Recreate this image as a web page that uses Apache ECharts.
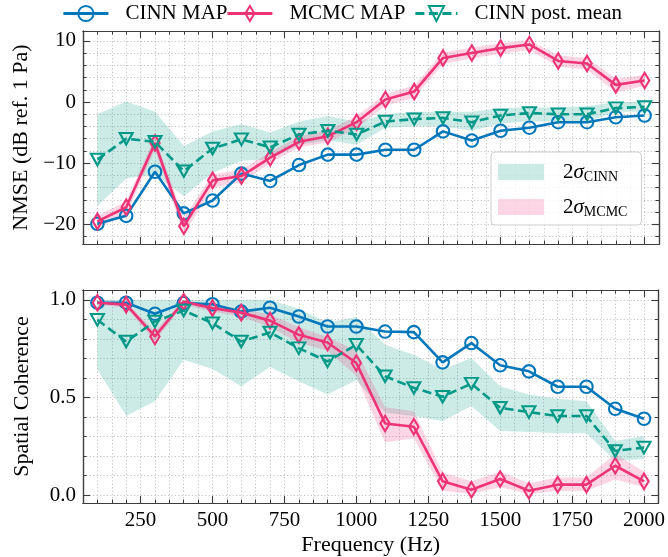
<!DOCTYPE html>
<html>
<head>
<meta charset="utf-8">
<script src="https://cdn.jsdelivr.net/npm/echarts@6/dist/echarts.min.js"></script>
<style>
  html, body { margin: 0; padding: 0; background: #fff; }
  #chart { width: 668px; height: 557px; }
</style>
</head>
<body>
<div id="chart"></div>
<script>
// Frequencies (Hz)
const freqs = [100, 200, 300, 400, 500, 600, 700, 800, 900, 1000, 1100, 1200, 1300, 1400, 1500, 1600, 1700, 1800, 1900, 2000];

// NMSE (dB ref. 1 Pa)
const nmseCinnMap  = [-19.9, -18.6, -11.4, -18.2, -16.1, -11.7, -12.9, -10.3, -8.6, -8.6, -7.8, -7.8, -4.8, -6.3, -4.7, -4.2, -3.3, -3.3, -2.5, -2.2];
const nmseMcmcMap  = [-19.5, -17.2, -6.7, -20.3, -12.8, -12.1, -9.1, -6.5, -5.6, -3.3, 0.4, 1.7, 7.2, 8.0, 8.8, 9.4, 6.7, 6.3, 2.8, 3.5];
const nmseCinnMean = [-9.4, -6.0, -6.5, -11.3, -7.6, -6.1, -7.4, -5.3, -4.7, -5.3, -3.2, -2.8, -2.6, -3.3, -2.2, -1.8, -2.0, -2.0, -1.0, -0.8];
const nmseCinnLo   = [-17.0, -12.5, -11.8, -15.4, -11.6, -9.6, -9.4, -7.0, -6.3, -7.0, -4.2, -4.0, -4.0, -4.7, -3.5, -3.2, -3.2, -3.2, -1.6, -1.6];
const nmseCinnHi   = [-2.0, 0.1, -1.6, -7.2, -4.8, -3.6, -5.0, -3.2, -2.3, -3.2, -2.0, -1.6, -1.6, -1.6, -1.0, -0.9, -0.9, -0.7, 0.0, 0.0];
const nmseMcmcLo   = [-20.6, -18.3, -7.8, -21.6, -14.0, -13.1, -10.0, -7.4, -6.6, -4.3, -0.6, 0.7, 6.2, 7.1, 7.9, 8.5, 5.8, 5.3, 1.6, 2.6];
const nmseMcmcHi   = [-18.6, -16.2, -5.7, -19.0, -11.8, -11.1, -8.2, -5.6, -4.6, -2.3, 1.3, 2.7, 8.1, 8.9, 9.6, 10.1, 7.6, 7.2, 3.8, 4.4];

// Spatial coherence
const cohCinnMap  = [0.986, 0.986, 0.929, 0.984, 0.978, 0.940, 0.960, 0.915, 0.864, 0.864, 0.838, 0.835, 0.680, 0.779, 0.665, 0.634, 0.555, 0.555, 0.442, 0.391];
const cohMcmcMap  = [0.986, 0.976, 0.813, 0.991, 0.958, 0.935, 0.894, 0.821, 0.782, 0.677, 0.367, 0.350, 0.070, 0.027, 0.082, 0.022, 0.053, 0.053, 0.150, 0.070];
const cohCinnMean = [0.898, 0.787, 0.889, 0.946, 0.881, 0.787, 0.833, 0.753, 0.685, 0.770, 0.609, 0.549, 0.504, 0.571, 0.447, 0.425, 0.405, 0.405, 0.226, 0.243];
const cohCinnLo   = [0.643, 0.405, 0.481, 0.694, 0.646, 0.558, 0.656, 0.583, 0.515, 0.588, 0.422, 0.405, 0.379, 0.456, 0.328, 0.323, 0.316, 0.316, 0.175, 0.184];
const cohCinnHi   = [1.000, 1.000, 1.000, 1.000, 1.000, 1.000, 1.000, 0.955, 0.885, 0.912, 0.770, 0.719, 0.643, 0.702, 0.558, 0.515, 0.493, 0.481, 0.277, 0.303];
const cohMcmcLo   = [0.975, 0.960, 0.790, 0.975, 0.940, 0.915, 0.860, 0.780, 0.740, 0.610, 0.270, 0.290, 0.022, 0.005, 0.040, 0.005, 0.020, 0.020, 0.080, 0.040];
const cohMcmcHi   = [0.995, 0.990, 0.840, 1.000, 0.975, 0.955, 0.925, 0.860, 0.810, 0.740, 0.450, 0.430, 0.116, 0.070, 0.120, 0.060, 0.090, 0.090, 0.210, 0.120];

// Tick positions
const freqMajorTicks = [250, 500, 750, 1000, 1250, 1500, 1750, 2000];
const freqMinorTicks = [];
for (let f = 100; f <= 2000; f += 50) freqMinorTicks.push(f);
const nmseMajorTicks = [-20, -10, 0, 10];
const nmseMinorTicks = [-22, -20, -18, -16, -14, -12, -10, -8, -6, -4, -2, 0, 2, 4, 6, 8, 10];
const cohMajorTicks = [0, 0.5, 1.0];
const cohMinorTicks = [0, 0.1, 0.2, 0.3, 0.4, 0.5, 0.6, 0.7, 0.8, 0.9, 1.0];

const FONT = 'Liberation Serif';
const frameColor = '#3c3c3c';
const gridColor = '#b4b4b4';
const BLUE = '#0077BB', PINK = '#EE3377', TEAL = '#009988';

// thin diamond inside a square box, so it keeps its shape in the legend too
const THIN_DIAMOND = 'path://M0,8 M16,8 M8,0 L12.8,8 L8,16 L3.2,8 Z';

const panels = [
  { top: 31, height: 213, ymin: -23.2, ymax: 11.6, major: nmseMajorTicks, minor: nmseMinorTicks,
    fmt: v => (v < 0 ? '\u2212' + Math.abs(v) : String(v)), yname: 'NMSE (dB ref. 1 Pa)', xlabels: false },
  { top: 290, height: 214, ymin: -0.041, ymax: 1.051, major: cohMajorTicks, minor: cohMinorTicks,
    fmt: v => v.toFixed(1), yname: 'Spatial Coherence', xlabels: true }
];

const grids = [], xAxes = [], yAxes = [];
panels.forEach((p, gi) => {
  grids.push({ left: 83, right: 9, top: p.top, height: p.height });
  const axLine = { show: true, onZero: false, lineStyle: { color: frameColor, width: 1.2 } };
  const xb = { type: 'value', gridIndex: gi, min: 50, max: 2050, axisLine: axLine,
               axisLabel: { show: false }, splitLine: { show: false } };
  // minor ticks + dotted grid (bottom)
  xAxes.push(Object.assign({}, xb, { position: 'bottom',
    axisTick: { show: true, inside: true, length: 3.5, customValues: freqMinorTicks, lineStyle: { color: frameColor, width: 1 } },
    splitLine: { show: true, lineStyle: { color: gridColor, width: 0.8, type: [1.2, 2.2] } } }));
  // major ticks + labels (bottom)
  xAxes.push(Object.assign({}, xb, { position: 'bottom',
    axisTick: { show: true, inside: true, length: 7, customValues: freqMajorTicks, lineStyle: { color: frameColor, width: 1.1 } },
    axisLabel: { show: p.xlabels, customValues: freqMajorTicks, margin: 7, color: '#000', fontFamily: FONT, fontSize: 21,
                 formatter: v => String(v) },
    name: p.xlabels ? 'Frequency (Hz)' : '', nameLocation: 'middle', nameGap: 31,
    nameTextStyle: { color: '#000', fontFamily: FONT, fontSize: 22 } }));
  // top frame ticks
  xAxes.push(Object.assign({}, xb, { position: 'top',
    axisTick: { show: true, inside: true, length: 3.5, customValues: freqMinorTicks, lineStyle: { color: frameColor, width: 1 } } }));
  xAxes.push(Object.assign({}, xb, { position: 'top',
    axisTick: { show: true, inside: true, length: 7, customValues: freqMajorTicks, lineStyle: { color: frameColor, width: 1.1 } } }));

  const yb = { type: 'value', gridIndex: gi, min: p.ymin, max: p.ymax, axisLine: axLine,
               axisLabel: { show: false }, splitLine: { show: false } };
  yAxes.push(Object.assign({}, yb, { position: 'left',
    axisTick: { show: true, inside: true, length: 3.5, customValues: p.minor, lineStyle: { color: frameColor, width: 1 } },
    splitLine: { show: true, lineStyle: { color: gridColor, width: 0.8, type: [1.2, 2.2] } } }));
  yAxes.push(Object.assign({}, yb, { position: 'left',
    axisTick: { show: true, inside: true, length: 7, customValues: p.major, lineStyle: { color: frameColor, width: 1.1 } },
    axisLabel: { show: true, customValues: p.major, margin: 7, color: '#000', fontFamily: FONT, fontSize: 21, formatter: p.fmt },
    name: p.yname, nameLocation: 'middle', nameGap: 50,
    nameTextStyle: { color: '#000', fontFamily: FONT, fontSize: 22 } }));
  yAxes.push(Object.assign({}, yb, { position: 'right',
    axisTick: { show: true, inside: true, length: 3.5, customValues: p.minor, lineStyle: { color: frameColor, width: 1 } } }));
  yAxes.push(Object.assign({}, yb, { position: 'right',
    axisTick: { show: true, inside: true, length: 7, customValues: p.major, lineStyle: { color: frameColor, width: 1.1 } } }));
});

const pairs = vals => freqs.map((f, i) => [f, vals[i]]);

function lineSeries(name, vals, gi, color, symbol, size, dashed, z) {
  return {
    type: 'line', name, xAxisIndex: gi * 4, yAxisIndex: gi * 4, z,
    data: pairs(vals),
    symbol, symbolSize: size, symbolRotate: symbol === 'triangle' ? 180 : 0,
    showSymbol: true,
    lineStyle: { color, width: 2.6, type: dashed ? [9, 4.5] : 'solid' },
    itemStyle: { color: 'rgba(255,255,255,0)', borderColor: color, borderWidth: 2.1 },
    emphasis: { disabled: true },
    animation: false
  };
}

function bandSeries(name, lo, hi, gi, color) {
  return {
    type: 'custom', name, xAxisIndex: gi * 4, yAxisIndex: gi * 4, z: 1,
    data: freqs.map((f, i) => [f, lo[i], hi[i]]),
    encode: { x: 0, y: [1, 2] },
    renderItem(params, api) {
      if (params.dataIndex !== 0) return null;
      const pts = [];
      for (let i = 0; i < freqs.length; i++) pts.push(api.coord([freqs[i], hi[i]]));
      for (let i = freqs.length - 1; i >= 0; i--) pts.push(api.coord([freqs[i], lo[i]]));
      return { type: 'polygon', shape: { points: pts }, style: { fill: color, opacity: 0.2 } };
    },
    itemStyle: { color },
    silent: true,
    animation: false
  };
}

const series = [
  bandSeries('2σ CINN', nmseCinnLo, nmseCinnHi, 0, TEAL),
  bandSeries('2σ MCMC', nmseMcmcLo, nmseMcmcHi, 0, PINK),
  lineSeries('CINN MAP', nmseCinnMap, 0, BLUE, 'circle', 12.5, false, 3),
  lineSeries('MCMC MAP', nmseMcmcMap, 0, PINK, THIN_DIAMOND, 15.5, false, 4),
  lineSeries('CINN post. mean', nmseCinnMean, 0, TEAL, 'triangle', [13, 11.5], true, 5),
  bandSeries('2σ CINN', cohCinnLo, cohCinnHi, 1, TEAL),
  bandSeries('2σ MCMC', cohMcmcLo, cohMcmcHi, 1, PINK),
  lineSeries('CINN MAP', cohCinnMap, 1, BLUE, 'circle', 12.5, false, 3),
  lineSeries('MCMC MAP', cohMcmcMap, 1, PINK, THIN_DIAMOND, 15.5, false, 4),
  lineSeries('CINN post. mean', cohCinnMean, 1, TEAL, 'triangle', [13, 11.5], true, 5)
];

const legendText = { color: '#000', fontFamily: FONT, fontSize: 21, rich: { sp: { width: 12 } } };
function topLegend(name, left, width) {
  return {
    data: [name], left, top: 3, itemWidth: width, itemHeight: 19, padding: 0,
    selectedMode: false, textStyle: legendText,
    lineStyle: { width: 2.8 },
    formatter: n => '{sp| }' + n
  };
}

const option = {
  backgroundColor: '#fff',
  animation: false,
  grid: grids,
  xAxis: xAxes,
  yAxis: yAxes,
  legend: [
    topLegend('CINN MAP', 62, 45),
    topLegend('MCMC MAP', 226, 45),
    topLegend('CINN post. mean', 414, 42),
    {
      orient: 'vertical', left: 491, top: 152, itemWidth: 46, itemHeight: 16, itemGap: 11,
      padding: [8, 14, 6, 7], backgroundColor: 'rgba(255,255,255,0.8)',
      borderColor: '#cfcfcf', borderWidth: 1, borderRadius: 4, selectedMode: false,
      data: [
        { name: '2σ CINN', icon: 'rect', itemStyle: { color: 'rgba(0,153,136,0.2)' } },
        { name: '2σ MCMC', icon: 'rect', itemStyle: { color: 'rgba(238,51,119,0.2)' } }
      ],
      formatter: n => {
        const sub = n.split(' ')[1];
        return '{sp| }{n|2}{g|σ}{s|' + sub + '}';
      },
      textStyle: {
        color: '#000', fontFamily: FONT, fontSize: 21,
        rich: {
          sp: { width: 14, lineHeight: 16 },
          n: { fontFamily: FONT, fontSize: 21, lineHeight: 16 },
          g: { fontFamily: FONT, fontSize: 21, fontStyle: 'italic', lineHeight: 16 },
          s: { fontFamily: FONT, fontSize: 14, lineHeight: 8, padding: [10, 0, 0, 0] }
        }
      }
    }
  ],
  series
};

const chart = echarts.init(document.getElementById('chart'), null, { renderer: 'canvas' });
chart.setOption(option);
</script>
</body>
</html>
